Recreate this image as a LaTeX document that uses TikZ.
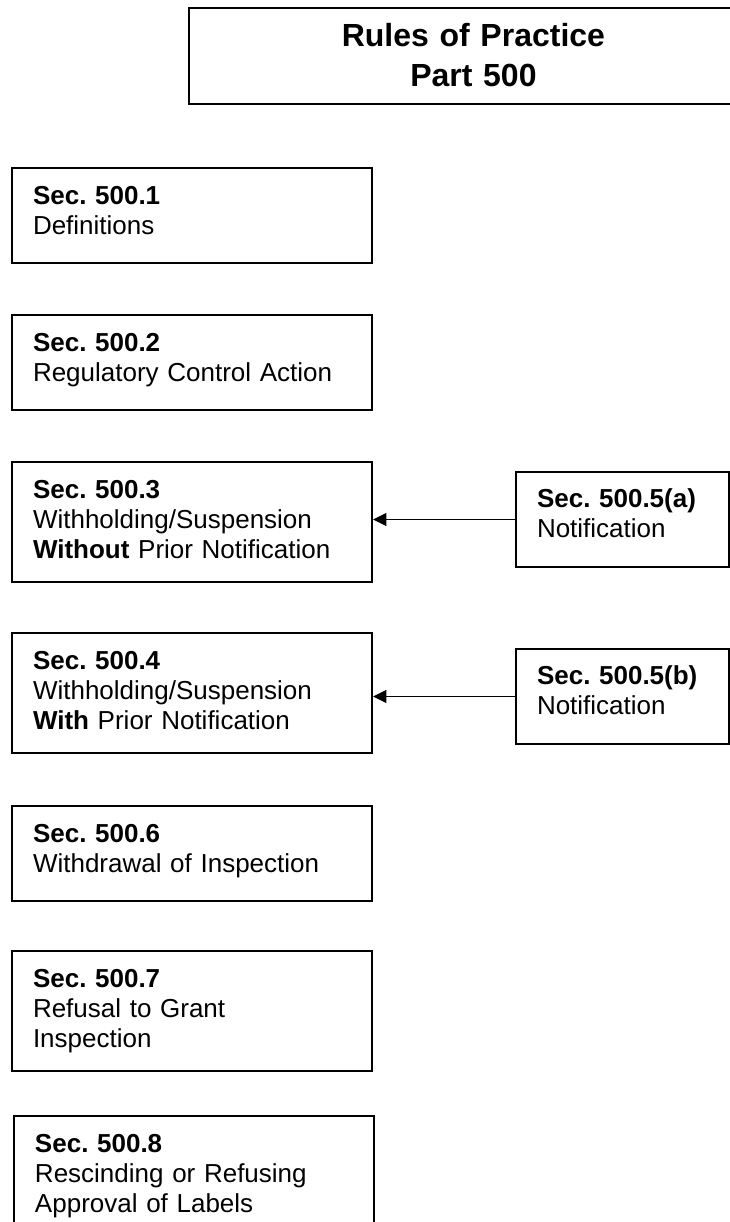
\documentclass[tikz,border=0pt]{standalone}
\usepackage{fontspec}
\setmainfont{Liberation Sans}
\usepackage{tikz}
\usetikzlibrary{positioning, arrows.meta}
\frenchspacing

\begin{document}
\begin{tikzpicture}[x=0.75pt, y=-0.75pt,
    >={Triangle[length=10pt, width=9.5pt]},
    boite/.style={rectangle, draw, line width=1.5pt, align=left,
                  inner xsep=15.75pt, inner ysep=0pt, text width=238.5pt,
                  text height=27pt,
                  font=\fontsize{19.5}{22.5}\selectfont},
    deux/.style={text depth=44.25pt},
    trois/.style={text depth=63pt},
    renvoi/.style={boite, deux, text width=128.25pt},
    titre/.style={rectangle, draw, line width=1.5pt, align=center,
                  inner ysep=0pt, text width=420pt,
                  text height=28.5pt, text depth=43.5pt,
                  font=\fontsize{24}{30}\selectfont\bfseries},
    fleche/.style={->, line width=1.4pt}]
    \useasboundingbox (0,0) rectangle (729,1222);
    % titre en haut, coupé par le bord droit
    \node[titre, anchor=north west] (titre) at (188,7) {Rules of Practice\\Part 500};
    % colonne des sections
    \node[boite, deux, anchor=north west] (s1) at (11,167) {\textbf{Sec. 500.1}\\Definitions};
    \node[boite, deux, below=37.5pt of s1] (s2) {\textbf{Sec. 500.2}\\Regulatory Control Action};
    \node[boite, trois, below=37.5pt of s2] (s3) {\textbf{Sec. 500.3}\\Withholding/Suspension\\\textbf{Without} Prior Notification};
    \node[boite, trois, below=36.75pt of s3] (s4) {\textbf{Sec. 500.4}\\Withholding/Suspension\\\textbf{With} Prior Notification};
    \node[boite, deux, below=38.25pt of s4] (s6) {\textbf{Sec. 500.6}\\Withdrawal of Inspection};
    \node[boite, trois, below=36pt of s6] (s7) {\textbf{Sec. 500.7}\\Refusal to Grant\\Inspection};
    \node[boite, trois, below=32.25pt of s7, xshift=1.5pt] (s8) {\textbf{Sec. 500.8}\\Rescinding or Refusing\\Approval of Labels};
    % notifications à droite
    \node[renvoi, right=106.5pt of s3, yshift=1.9pt] (s5a) {\textbf{Sec. 500.5(a)}\\Notification};
    \node[renvoi, right=106.5pt of s4, yshift=-2.6pt] (s5b) {\textbf{Sec. 500.5(b)}\\Notification};
    \draw[fleche] (s5a.west) -- (s5a.west -| s3.east);
    \draw[fleche] (s5b.west) -- (s5b.west -| s4.east);
\end{tikzpicture}
\end{document}
